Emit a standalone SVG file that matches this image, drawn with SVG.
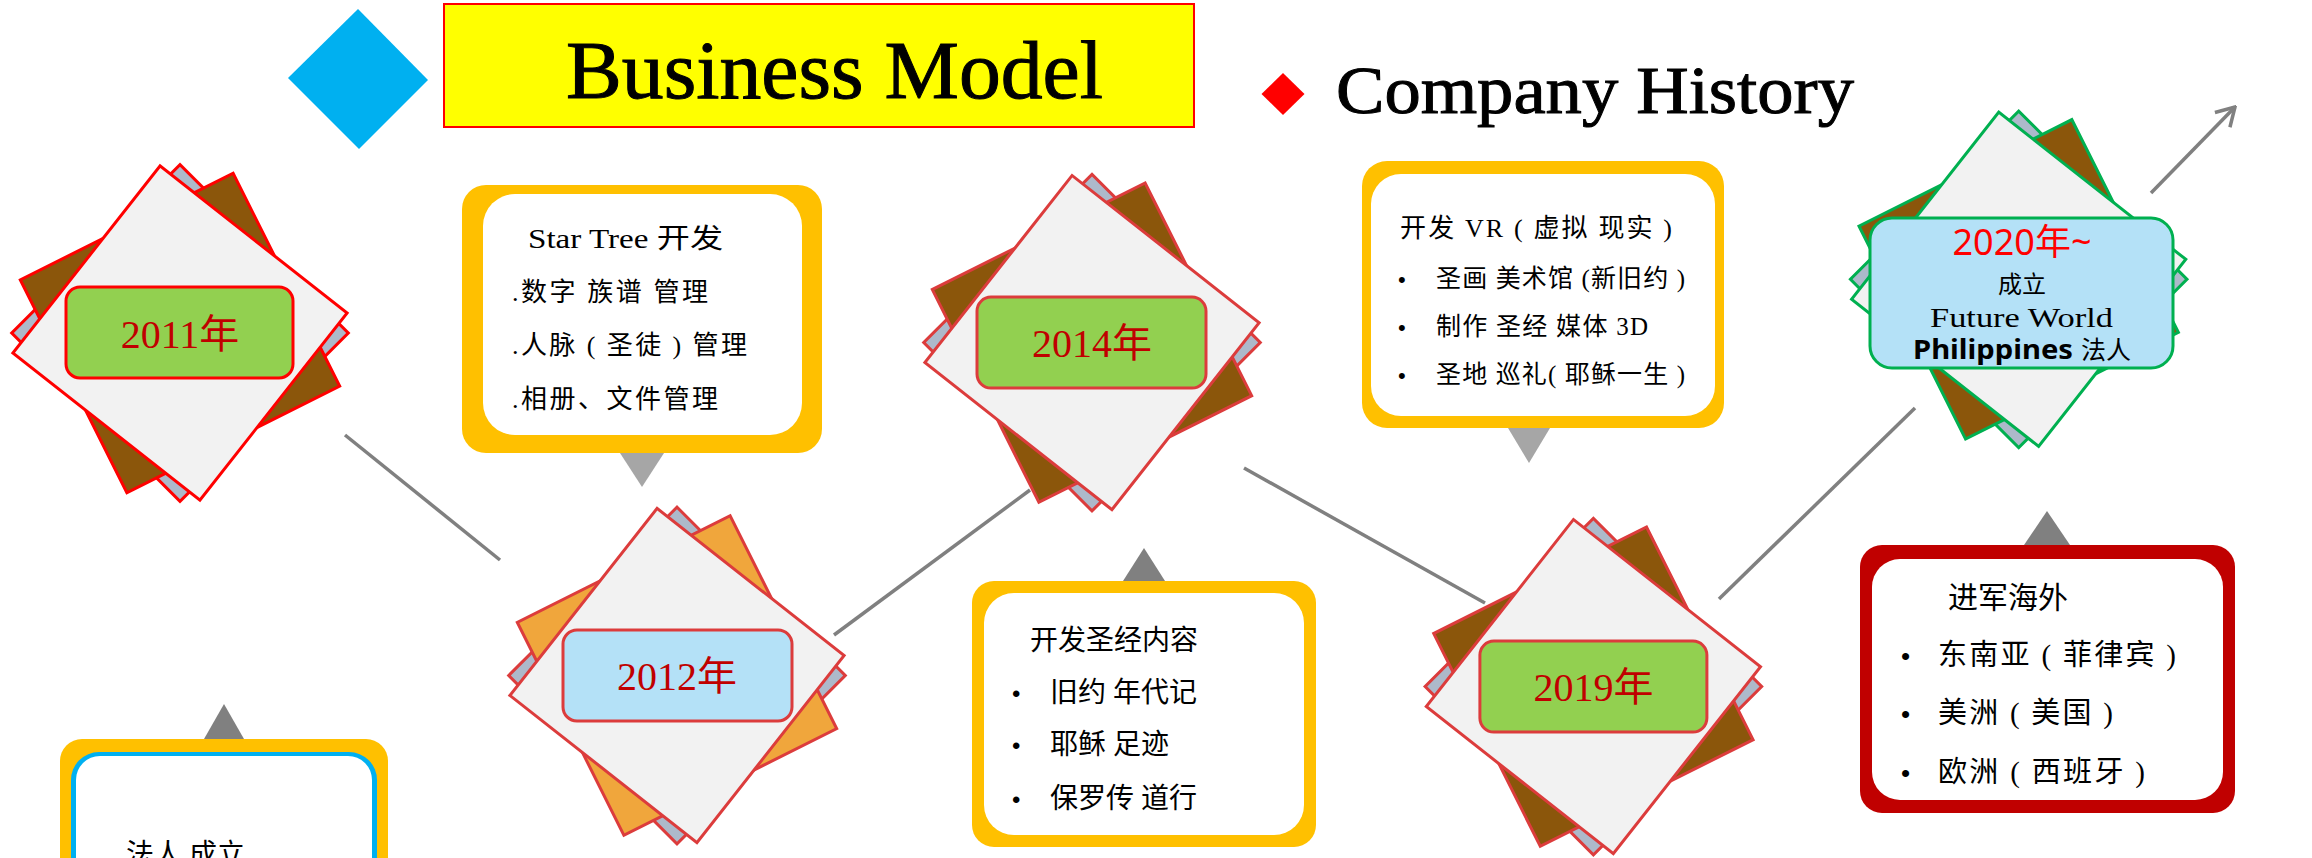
<svg xmlns="http://www.w3.org/2000/svg" width="2312" height="858" viewBox="0 0 2312 858">
<style>
.sq{stroke-width:3;stroke-linejoin:miter}
.red .sq{stroke:#DC3C3C}
.red2 .sq{stroke:#FF0000}
.grn .sq{stroke:#00B050}
.bg{fill:#ADB9CA}
.br{fill:#8B560B}
.or{fill:#F0A63C}
.fr{fill:#F2F2F2}
.lbl{stroke:#DC3C3C;stroke-width:3}
.yr{font-family:"Liberation Serif","Noto Sans CJK SC",serif;font-size:40px;fill:#C00000;text-anchor:middle}
.t{font-family:"Liberation Serif","Noto Sans CJK SC",sans-serif;fill:#000}
.b{font-family:"Liberation Sans",sans-serif;fill:#000}
.con{stroke:#808080;stroke-width:3.5;fill:none}
.ttl{font-family:"Liberation Serif",serif;fill:#000;stroke:#000;stroke-width:1}
</style>
<defs>
<marker id="arr" viewBox="-22 -13 24 26" markerWidth="24" markerHeight="26" refX="0" refY="0" orient="auto" markerUnits="userSpaceOnUse">
<path d="M-18,-10.5 L0,0 L-18,10.5" fill="none" stroke="#808080" stroke-width="3.5"/>
</marker>
</defs>
<rect width="2312" height="858" fill="#FFFFFF"/>

<g id="title">
<polygon points="358,9 428,80 359,149 288,78" fill="#00B0F0"/>
<rect x="444" y="4" width="750" height="123" fill="#FFFF00" stroke="#FF0000" stroke-width="2"/>
<text class="ttl" x="566" y="98" font-size="82" textLength="537" lengthAdjust="spacingAndGlyphs">Business Model</text>
</g>
<g id="subtitle">
<polygon points="1283,73 1304.5,94 1283,115 1261.5,94" fill="#FF0000"/>
<text class="ttl" x="1336" y="113" font-size="68" stroke-width="0.8" textLength="518" lengthAdjust="spacingAndGlyphs">Company History</text>
</g>

<g id="connectors">
<line class="con" x1="345" y1="435" x2="500" y2="560"/>
<line class="con" x1="834" y1="635" x2="1030" y2="490"/>
<line class="con" x1="1244" y1="468" x2="1485" y2="603"/>
<line class="con" x1="1719" y1="599" x2="1915" y2="408"/>
<line class="con" x1="2151" y1="193" x2="2235" y2="107" marker-end="url(#arr)"/>
</g>

<g id="card-2011" class="red2" transform="translate(180,333)">
<rect class="sq bg" x="-119" y="-119" width="238" height="238" transform="rotate(45)"/>
<rect class="sq br" x="-119" y="-119" width="238" height="238" transform="rotate(63.4)"/>
<rect class="sq fr" x="-119" y="-119" width="238" height="238" transform="rotate(38.2)"/>
<rect x="-114" y="-46" width="227" height="91" rx="14" fill="#92D050" stroke="#FF0000" stroke-width="3"/>
<text class="yr" x="0" y="15">2011年</text>
</g>

<g id="card-2012" class="red" transform="translate(677,675.5)">
<rect class="sq bg" x="-119" y="-119" width="238" height="238" transform="rotate(45)"/>
<rect class="sq or" x="-119" y="-119" width="238" height="238" transform="rotate(63.4)"/>
<rect class="sq fr" x="-119" y="-119" width="238" height="238" transform="rotate(38.2)"/>
<rect class="lbl" x="-114" y="-45.5" width="229" height="91" rx="14" fill="#B4E1F7"/>
<text class="yr" x="0" y="14">2012年</text>
</g>

<g id="card-2014" class="red" transform="translate(1092,342.6)">
<rect class="sq bg" x="-119" y="-119" width="238" height="238" transform="rotate(45)"/>
<rect class="sq br" x="-119" y="-119" width="238" height="238" transform="rotate(63.4)"/>
<rect class="sq fr" x="-119" y="-119" width="238" height="238" transform="rotate(38.2)"/>
<rect class="lbl" x="-115" y="-45.5" width="229" height="91" rx="14" fill="#92D050"/>
<text class="yr" x="0" y="14">2014年</text>
</g>

<g id="card-2019" class="red" transform="translate(1593.4,686.6)">
<rect class="sq bg" x="-119" y="-119" width="238" height="238" transform="rotate(45)"/>
<rect class="sq br" x="-119" y="-119" width="238" height="238" transform="rotate(63.4)"/>
<rect class="sq fr" x="-119" y="-119" width="238" height="238" transform="rotate(38.2)"/>
<rect class="lbl" x="-113.5" y="-45.5" width="227" height="91" rx="14" fill="#92D050"/>
<text class="yr" x="0" y="14">2019年</text>
</g>

<g id="card-2020" class="grn" transform="translate(2018.7,279.3)">
<rect class="sq bg" x="-119" y="-119" width="238" height="238" transform="rotate(45)"/>
<rect class="sq br" x="-119" y="-119" width="238" height="238" transform="rotate(63.4)"/>
<rect class="sq fr" x="-119" y="-119" width="238" height="238" transform="rotate(38.2)"/>
</g>
<g id="label-2020">
<rect x="1870" y="218" width="303" height="150" rx="22" fill="#B4E1F7" stroke="#00B050" stroke-width="3"/>
<text x="2022" y="255" font-family="Noto Sans, Noto Sans CJK SC, sans-serif" font-size="36" fill="#FF0000" text-anchor="middle">2020年~</text>
<text class="t" x="2022" y="293" font-size="24" text-anchor="middle">成立</text>
<text class="t" x="1930" y="327" font-size="28" textLength="183" lengthAdjust="spacingAndGlyphs">Future World</text>
<text x="1913" y="359" font-family="Noto Sans, sans-serif" font-weight="bold" font-size="26" textLength="160" lengthAdjust="spacingAndGlyphs" fill="#000">Philippines</text>
<text class="t" x="2081" y="359" font-size="25">法人</text>
</g>

<g id="callout-startree">
<rect x="462" y="185" width="360" height="268" rx="24" fill="#FFC000"/>
<rect x="483" y="194" width="319" height="241" rx="32" fill="#FFFFFF"/>
<polygon points="620,453 664,453 642,487" fill="#A6A6A6"/>
<text class="t" x="528" y="248" font-size="27" textLength="195" lengthAdjust="spacingAndGlyphs">Star Tree 开发</text>
<text class="t" x="512" y="301" font-size="26" textLength="196">.数字 族谱 管理</text>
<text class="t" x="512" y="354" font-size="26" textLength="235">.人脉 ( 圣徒 ) 管理</text>
<text class="t" x="512" y="407.5" font-size="26" textLength="206">.相册、文件管理</text>
</g>

<g id="callout-bible">
<polygon points="1123,581 1165,581 1144,548" fill="#808080"/>
<rect x="972" y="581" width="344" height="266" rx="22" fill="#FFC000"/>
<rect x="984" y="593" width="320" height="242" rx="30" fill="#FFFFFF"/>
<text class="t" x="1030" y="650" font-size="28">开发圣经内容</text>
<text class="b" x="1012" y="701.7" font-size="24">•</text>
<text class="t" x="1050" y="701.7" font-size="28">旧约 年代记</text>
<text class="b" x="1012" y="754.3" font-size="24">•</text>
<text class="t" x="1050" y="754.3" font-size="28">耶稣 足迹</text>
<text class="b" x="1012" y="808.3" font-size="24">•</text>
<text class="t" x="1050" y="808.3" font-size="28">保罗传 道行</text>
</g>

<g id="callout-vr">
<rect x="1362" y="161" width="362" height="267" rx="25" fill="#FFC000"/>
<rect x="1371" y="174" width="344" height="242" rx="30" fill="#FFFFFF"/>
<polygon points="1508,428 1550,428 1529,463" fill="#A6A6A6"/>
<text class="t" x="1400" y="237" font-size="26" textLength="272">开发 VR ( 虚拟 现实 )</text>
<text class="b" x="1398" y="286.7" font-size="22">•</text>
<text class="t" x="1436" y="286.7" font-size="25" textLength="249">圣画 美术馆 (新旧约 )</text>
<text class="b" x="1398" y="335" font-size="22">•</text>
<text class="t" x="1436" y="335" font-size="25" textLength="212">制作 圣经 媒体 3D</text>
<text class="b" x="1398" y="382.7" font-size="22">•</text>
<text class="t" x="1436" y="382.7" font-size="25" textLength="249">圣地 巡礼( 耶稣一生 )</text>
</g>

<g id="callout-overseas">
<polygon points="2024,545 2070,545 2047,511" fill="#808080"/>
<rect x="1860" y="545" width="375" height="268" rx="22" fill="#C00000"/>
<rect x="1872" y="559" width="351" height="241" rx="28" fill="#FFFFFF"/>
<text class="t" x="1948" y="608" font-size="30">进军海外</text>
<text class="b" x="1901" y="665" font-size="26">•</text>
<text class="t" x="1938" y="665" font-size="29" textLength="238">东南亚 ( 菲律宾 )</text>
<text class="b" x="1901" y="723.3" font-size="26">•</text>
<text class="t" x="1938" y="723.3" font-size="29" textLength="175">美洲 ( 美国 )</text>
<text class="b" x="1901" y="781.7" font-size="26">•</text>
<text class="t" x="1938" y="781.7" font-size="29" textLength="207">欧洲 ( 西班牙 )</text>
</g>

<g id="callout-founded">
<polygon points="204,739 244,739 224,704" fill="#808080"/>
<rect x="60" y="739" width="328" height="160" rx="22" fill="#FFC000"/>
<rect x="71" y="752" width="306" height="140" rx="28" fill="#00B0F0"/>
<rect x="76" y="756" width="296" height="130" rx="24" fill="#FFFFFF"/>
<text class="t" x="126" y="864" font-size="28">法人 成立</text>
</g>
</svg>
